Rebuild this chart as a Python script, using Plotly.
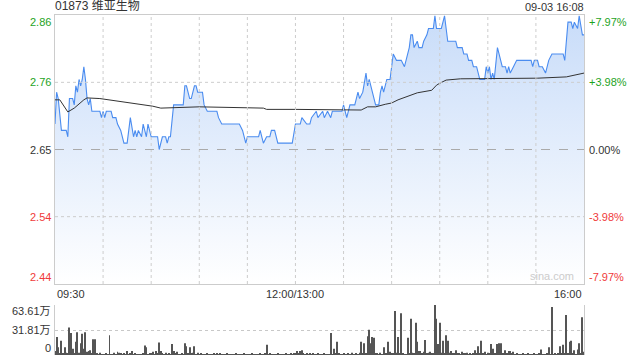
import plotly.graph_objects as go

PREV_CLOSE = 2.65
TITLE = "01873 维亚生物"
STAMP = "09-03 16:08"

# price trace (minute from 09:30, price)
PRICE_TRACE = [(0,2.69),(1,2.74),(2,2.73),(4,2.68),(7,2.68),(8,2.67),(9,2.73),(11,2.73),(12,2.72),(13,2.75),(14,2.74),(15,2.76),(16,2.75),(17,2.76),(18,2.78),(19,2.76),(20,2.73),(21,2.72),(22,2.73),(23,2.71),(28,2.71),(29,2.70),(30,2.71),(31,2.70),(32,2.71),(35,2.71),(36,2.70),(38,2.70),(39,2.69),(41,2.68),(43,2.66),(45,2.66),(47,2.70),(49,2.67),(50,2.68),(51,2.67),(52,2.68),(54,2.67),(55,2.69),(57,2.67),(58,2.69),(60,2.67),(64,2.67),(65,2.65),(67,2.67),(69,2.67),(70,2.66),(71,2.67),(72,2.67),(74,2.72),(80,2.72),(81,2.75),(82,2.75),(84,2.73),(85,2.73),(87,2.75),(88,2.75),(89,2.74),(92,2.74),(93,2.72),(95,2.71),(101,2.71),(102,2.70),(104,2.69),(115,2.69),(117,2.68),(119,2.66),(120,2.67),(127,2.67),(128,2.68),(129,2.67),(130,2.66),(132,2.67),(134,2.67),(135,2.68),(137,2.68),(139,2.66),(148,2.66),(150,2.69),(153,2.69),(154,2.70),(157,2.69),(159,2.69),(160,2.70),(163,2.71),(164,2.70),(167,2.71),(168,2.70),(170,2.71),(172,2.70),(173,2.71),(179,2.71),(180,2.72),(182,2.70),(184,2.72),(187,2.72),(189,2.74),(190,2.73),(192,2.74),(194,2.77),(195,2.75),(196,2.76),(200,2.72),(202,2.72),(203,2.74),(204,2.75),(205,2.74),(207,2.76),(209,2.76),(210,2.78),(211,2.80),(213,2.79),(216,2.79),(218,2.78),(219,2.79),(221,2.81),(222,2.83),(223,2.83),(224,2.81),(226,2.82),(227,2.81),(229,2.81),(230,2.82),(232,2.83),(233,2.84),(236,2.84),(237,2.86),(238,2.84),(241,2.84),(242,2.85),(243,2.86),(244,2.84),(245,2.82),(250,2.82),(251,2.81),(254,2.81),(255,2.80),(257,2.80),(258,2.79),(260,2.79),(261,2.78),(263,2.78),(265,2.76),(268,2.76),(269,2.78),(270,2.77),(271,2.78),(272,2.76),(273,2.77),(274,2.76),(276,2.81),(277,2.80),(279,2.78),(281,2.78),(282,2.77),(283,2.78),(284,2.77),(286,2.78),(288,2.79),(297,2.79),(298,2.78),(299,2.79),(301,2.79),(302,2.78),(304,2.78),(306,2.77),(308,2.79),(310,2.80),(317,2.80),(318,2.79),(320,2.85),(322,2.85),(323,2.84),(324,2.85),(326,2.84),(327,2.86),(329,2.83),(330,2.83)]
PRICE_MIN = [t for t, _ in PRICE_TRACE]
PRICE = [p for _, p in PRICE_TRACE]

# average price line
AVG_MIN = [0, 3, 8, 12, 18, 20, 28, 49, 61, 66, 90, 130, 132, 150, 191, 195, 200, 206, 210, 214, 218, 223, 226, 235, 238, 240, 244, 253, 265, 301, 319, 330]
AVG = [2.728, 2.728, 2.709, 2.715, 2.728, 2.731, 2.730, 2.723, 2.718, 2.715, 2.717, 2.715, 2.713, 2.713, 2.712, 2.717, 2.717, 2.721, 2.723, 2.728, 2.732, 2.736, 2.739, 2.743, 2.751, 2.754, 2.759, 2.761, 2.761, 2.762, 2.764, 2.770]

# volume per minute, in 万
VOLUME = [
    5, 23, 10, 2, 18, 1.5, 10, 3, 2, 35,
    28, 8, 2, 17, 29, 3, 15, 27, 8, 29,
    4, 5, 6, 2, 20, 20, 1.5, 1, 3, 1,
    1, 0.8, 1.5, 1, 25, 1, 1.2, 3, 1, 4,
    3, 1.5, 1, 2, 1, 5, 1, 1.5, 5, 1,
    1.5, 1, 0.8, 1, 1.2, 1.5, 12, 10, 1, 1.5,
    2, 4, 1, 5, 2, 16, 5, 1.5, 1, 3,
    1, 1.5, 1, 14, 5, 1.5, 4, 1, 1, 1.5,
    1, 15, 11, 2, 10, 1.5, 3, 11, 1, 3,
    1, 1.5, 1, 0.8, 1, 1.5, 1, 1, 0.8, 2,
    1, 1.5, 1, 2, 1, 1, 0.8, 1.5, 1, 1,
    0.8, 1, 1, 1.5, 1, 0.8, 1, 1, 1.5, 1,
    1, 0.8, 1, 1.5, 1, 1, 1, 0.8, 2, 1,
    1, 1.5, 13, 1, 1.5, 1, 0.8, 1, 1, 1.5,
    1, 1, 0.8, 1, 1.5, 1, 1, 2, 1, 1.5,
    2, 5, 1.5, 5, 6, 2, 1, 1.5, 1, 2,
    1, 1.5, 1, 1, 2, 1, 1, 0.8, 1.5, 1,
    1, 1, 28, 1, 8, 2, 17, 1.5, 1, 1,
    1.5, 1, 1, 2, 1, 3, 1, 1, 1.5, 1,
    3, 17, 1.5, 15, 2, 24, 32, 15, 23, 22,
    2, 1.5, 1, 3, 1, 10, 2, 1.5, 17, 4,
    2, 1.5, 56, 3, 23, 2, 53, 1.5, 1, 1,
    22, 2, 46, 3, 1.5, 41, 17, 5, 5, 2,
    4, 19, 2, 3, 4, 2, 1.5, 63.6, 46, 14,
    41, 3, 18, 2, 25, 18, 3, 5, 2, 1.5,
    6, 2, 1.5, 1, 4, 2, 1.5, 3, 1, 1.5,
    1, 2, 6, 1.5, 11, 2, 18, 1.5, 4, 1,
    3, 1.5, 14, 8, 2, 1.5, 14, 15, 15, 2,
    1.5, 6, 2, 5, 5, 1.5, 4, 1, 1.5, 1,
    1, 0.8, 1.5, 1, 1, 2, 1, 0.8, 1, 1.5,
    1, 1, 1.5, 7, 1, 1, 0.8, 1.5, 10, 1,
    61, 1, 1.5, 1, 2, 11, 1.5, 13, 2, 51,
    2, 17, 18, 1.5, 6, 1, 7, 15, 2, 48,
    4,
]
VOL_MIN = list(range(len(VOLUME)))

LEFT_LABELS = ["2.86", "2.76", "2.65", "2.54", "2.44"]
RIGHT_LABELS = ["+7.97%", "+3.98%", "0.00%", "-3.98%", "-7.97%"]
PCTS = [0.0797, 0.0398, 0.0, -0.0398, -0.0797]
VOL_LABELS = ["63.61万", "31.81万", "0"]
VOL_TICKS = [63.61, 31.81, 0]
X_LABELS = ["09:30", "12:00/13:00", "16:00"]
X_TICKS = [0, 150, 330]
GRID_MIN = [30, 60, 90, 120, 150, 180, 210, 240, 270, 300]

GREEN = "#1ea31e"
RED = "#f03a3a"
DARK = "#333333"
FONT = "Liberation Sans, Arial, Noto Sans CJK SC"

ymin = PREV_CLOSE * (1 - 0.0797)
ymax = PREV_CLOSE * (1 + 0.0797)

fig = go.Figure()
fig.add_trace(go.Scatter(
    x=PRICE_MIN, y=PRICE, mode="lines",
    line=dict(color="#4a8cf0", width=1.1),
    fill="tozeroy",
    fillgradient=dict(type="vertical", start=ymin, stop=ymax,
                      colorscale=[[0, "rgb(255,255,255)"], [1, "rgb(200,220,249)"]]),
    xaxis="x", yaxis="y", hoverinfo="skip"))
fig.add_trace(go.Scatter(
    x=AVG_MIN, y=AVG, mode="lines", line=dict(color="#333333", width=1),
    xaxis="x", yaxis="y", hoverinfo="skip"))
fig.add_trace(go.Bar(
    x=VOL_MIN, y=VOLUME, marker=dict(color="#555555", line=dict(width=0)),
    xaxis="x2", yaxis="y2", hoverinfo="skip"))

main_bottom = (355 - 284) / 340
vol_top = (355 - 305) / 340

fig.update_layout(
    width=640, height=360, margin=dict(l=55, r=56, t=15, b=5),
    paper_bgcolor="white", plot_bgcolor="rgba(0,0,0,0)",
    showlegend=False, bargap=0.4,
    font=dict(family=FONT, size=11, color=DARK),
    xaxis=dict(domain=[0, 1], range=[0, 330], anchor="y",
               showticklabels=False, showgrid=False, zeroline=False, showline=True,
               mirror=True, linecolor="#cccccc", linewidth=1, ticks=""),
    yaxis=dict(domain=[main_bottom, 1], range=[ymin, ymax], anchor="x",
               showticklabels=False, showgrid=False, zeroline=False,
               showline=True, mirror=True, linecolor="#cccccc", linewidth=1, ticks=""),
    xaxis2=dict(domain=[0, 1], range=[0, 330], anchor="y2", showticklabels=False,
                showgrid=False, zeroline=False, showline=False, ticks=""),
    yaxis2=dict(domain=[0, vol_top], range=[0, 63.61], anchor="x2",
                tickvals=[31.81, 63.61], showticklabels=False, showgrid=True,
                gridcolor="#c8c8c8", griddash="dot", gridwidth=1, zeroline=False,
                showline=True, mirror=True, linecolor="#cccccc", linewidth=1, ticks=""),
)

# grid lines drawn over the gradient fill
for gm in GRID_MIN:
    fig.add_shape(type="line", xref="x", yref="y", x0=gm, x1=gm, y0=ymin, y1=ymax,
                  line=dict(color="#cdcdcd", width=1, dash="dot"), layer="above")
for pct in (0.0398, -0.0398):
    yv = PREV_CLOSE * (1 + pct)
    fig.add_shape(type="line", xref="x", yref="y", x0=0, x1=330, y0=yv, y1=yv,
                  line=dict(color="#cdcdcd", width=1, dash="dot"), layer="above")
fig.add_shape(type="line", xref="x", yref="y", x0=0, x1=330, y0=PREV_CLOSE, y1=PREV_CLOSE,
              line=dict(color="#aaaaaa", width=1, dash="dash"), layer="above")

ann = []
lc = [GREEN, GREEN, DARK, RED, RED]
anchors = ["top", "middle", "middle", "middle", "bottom"]
for lab, rlab, pct, c, ya in zip(LEFT_LABELS, RIGHT_LABELS, PCTS, lc, anchors):
    yv = PREV_CLOSE * (1 + pct)
    shift = {"top": 1, "middle": 0, "bottom": -1}[ya]
    ann.append(dict(text=lab, x=0, xref="paper", xanchor="right", xshift=-2,
                    y=yv, yref="y", yanchor=ya, yshift=shift, showarrow=False,
                    font=dict(color=c, size=11, family=FONT)))
    ann.append(dict(text=rlab, x=1, xref="paper", xanchor="left", xshift=3,
                    y=yv, yref="y", yanchor=ya, yshift=shift, showarrow=False,
                    font=dict(color=c, size=11, family=FONT)))
vanch = ["top", "middle", "bottom"]
for lab, v, ya in zip(VOL_LABELS, VOL_TICKS, vanch):
    ann.append(dict(text=lab, x=0, xref="paper", xanchor="right", xshift=-2,
                    y=v, yref="y2", yanchor="middle", yshift={"top": -6, "middle": 0, "bottom": 7}[ya],
                    showarrow=False, font=dict(color=DARK, size=11, family=FONT)))
xanch = ["left", "center", "right"]
for lab, t, xa in zip(X_LABELS, X_TICKS, xanch):
    ann.append(dict(text=lab, x=t, xref="x", xanchor=xa, y=ymin, yref="y",
                    yanchor="top", yshift=-2, showarrow=False,
                    font=dict(color=DARK, size=11, family=FONT)))
ann.append(dict(text=TITLE, x=0, xref="paper", xanchor="left", xshift=-2,
                y=1, yref="paper", yanchor="bottom", yshift=0, showarrow=False,
                font=dict(color=DARK, size=12, family=FONT)))
ann.append(dict(text=STAMP, x=1, xref="paper", xanchor="right", xshift=2,
                y=1, yref="paper", yanchor="bottom", yshift=0, showarrow=False,
                font=dict(color=DARK, size=11, family=FONT)))
ann.append(dict(text="sina.com", x=310, xref="x", xanchor="center", y=ymin, yref="y",
                yanchor="bottom", yshift=0, showarrow=False,
                font=dict(color="#cccccc", size=11, family=FONT)))
fig.update_layout(annotations=ann)

fig.write_html("out.html")
